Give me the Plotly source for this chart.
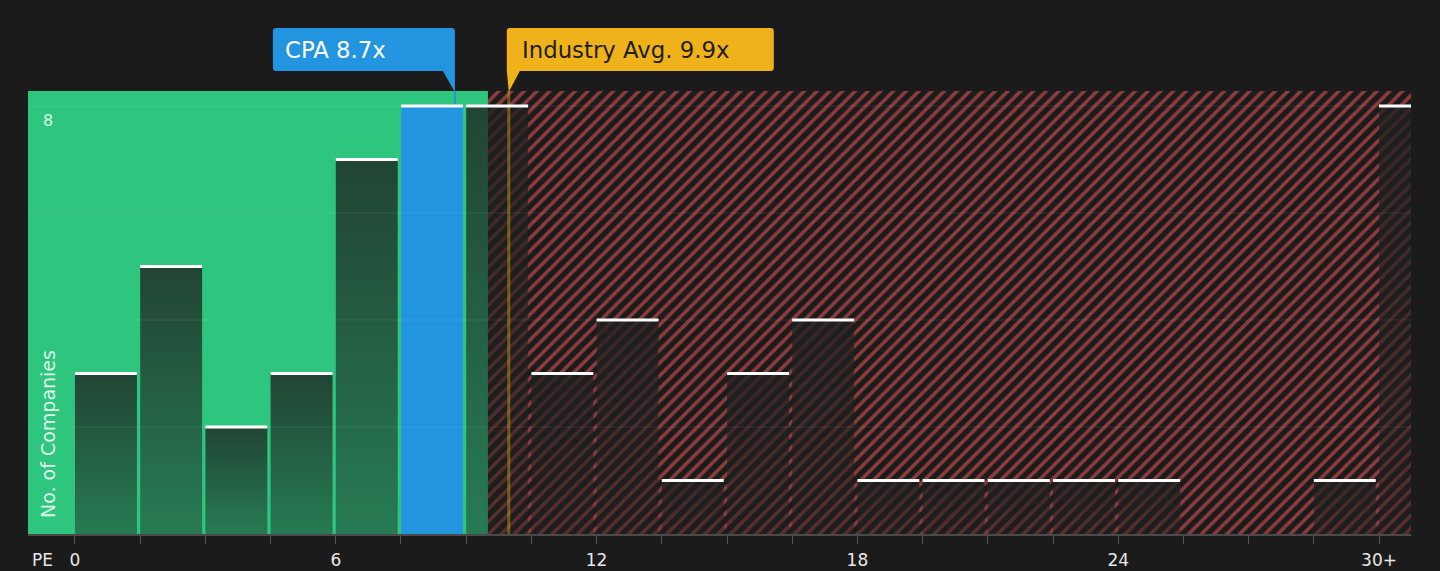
import plotly.graph_objects as go

# ---- data ----
bin_starts = [0, 1.5, 3, 4.5, 6, 7.5, 9, 10.5, 12, 13.5, 15, 16.5, 18, 19.5, 21, 22.5, 24, 25.5, 27, 28.5, 30]
counts = [3, 5, 2, 3, 7, 8, 8, 3, 4, 1, 3, 4, 1, 1, 1, 1, 1, 0, 0, 1, 8]
tick_labels = {0: "0", 6: "6", 12: "12", 18: "18", 24: "24", 30: "30+"}
company_label = "CPA 8.7x"
industry_label = "Industry Avg. 9.9x"
company_pe = 8.74
industry_pe = 9.98
fair_zone_end = 9.5
bin_width = 1.5

# ---- styling ----
BG = "#1b1b1b"
GREEN = "#2ec57e"
BLUE = "#2394e0"
YELLOW = "#f0b21b"
RED = "#ff5c5c"
FONT = "DejaVu Sans"
x_min, x_max = -1.081, 30.736
y_max = 8.28
bar_frac = 0.95

fig = go.Figure()

# green (undervalued) background
fig.add_trace(go.Scatter(
    x=[x_min, fair_zone_end, fair_zone_end, x_min, x_min],
    y=[0, 0, y_max, y_max, 0],
    fill="toself", fillcolor=GREEN, mode="lines", line=dict(width=0),
    hoverinfo="skip", showlegend=False))

# red hatched (overvalued) background
fig.add_trace(go.Bar(
    x=[(fair_zone_end + x_max) / 2], y=[y_max], width=[x_max - fair_zone_end], base=0,
    marker=dict(color=BG, line=dict(width=0),
                pattern=dict(shape="/", fgcolor=RED, bgcolor=BG, size=9, solidity=0.4)),
    hoverinfo="skip", showlegend=False))

# histogram bars
highlight = max(i for i, s in enumerate(bin_starts) if s <= company_pe)
for i, (s, v) in enumerate(zip(bin_starts, counts)):
    if v <= 0:
        continue
    w = bin_width * bar_frac
    xs = [s, s + w, s + w, s, s]
    ys = [0, 0, v, v, 0]
    if i == highlight:
        fig.add_trace(go.Scatter(x=xs, y=ys, fill="toself", fillcolor=BLUE, mode="lines",
                                 line=dict(width=0), hoverinfo="skip", showlegend=False))
    else:
        fig.add_trace(go.Scatter(
            x=xs, y=ys, fill="toself", mode="lines", line=dict(width=0),
            fillgradient=dict(type="vertical",
                              colorscale=[[0, "rgba(30,32,31,0.45)"], [1, "rgba(30,32,31,0.78)"]]),
            hoverinfo="skip", showlegend=False))

# industry average line
fig.add_trace(go.Scatter(x=[industry_pe, industry_pe], y=[0, y_max], mode="lines",
                         line=dict(color="rgba(200,150,30,0.5)", width=3),
                         hoverinfo="skip", showlegend=False))
# company pointer line
fig.add_trace(go.Scatter(x=[company_pe, company_pe], y=[counts[highlight], y_max], mode="lines",
                         line=dict(color=BLUE, width=2), hoverinfo="skip", showlegend=False))

# white caps
cx, cy = [], []
for s, v in zip(bin_starts, counts):
    if v <= 0:
        continue
    cx += [s, s + bin_width * bar_frac, None]
    cy += [v, v, None]
fig.add_trace(go.Scatter(x=cx, y=cy, mode="lines", line=dict(color="white", width=3),
                         hoverinfo="skip", showlegend=False))

shapes = []
for g in [2, 4, 6, 8]:
    shapes.append(dict(type="line", xref="paper", x0=0, x1=1, yref="y", y0=g, y1=g,
                       line=dict(color="rgba(255,255,255,0.09)", width=1), layer="above"))

# callouts (pixel-sized, anchored at data x)
shapes.append(dict(type="path", xref="x", xsizemode="pixel", xanchor=company_pe,
                   yref="paper", ysizemode="pixel", yanchor=1,
                   path="M -179,63 L -3,63 Q 0,63 0,60 L 0,-1 L -12,20 L -179,20 Q -182,20 -182,23 "
                        "L -182,60 Q -182,63 -179,63 Z",
                   fillcolor=BLUE, line=dict(width=0), layer="above"))
shapes.append(dict(type="path", xref="x", xsizemode="pixel", xanchor=industry_pe,
                   yref="paper", ysizemode="pixel", yanchor=1,
                   path="M -2,60 Q -2,63 1,63 L 262,63 Q 265,63 265,60 L 265,23 Q 265,20 262,20 "
                        "L 11,20 L 0,-1 L -2,20 Z",
                   fillcolor=YELLOW, line=dict(width=0), layer="above"))

annotations = [
    dict(x=company_pe, xref="x", xanchor="left", xshift=-172, y=1, yref="paper",
         yanchor="middle", yshift=41, text=company_label, showarrow=False,
         font=dict(family=FONT, size=22.8, color="white")),
    dict(x=industry_pe, xref="x", xanchor="left", xshift=11, y=1, yref="paper",
         yanchor="middle", yshift=41, text=industry_label, showarrow=False,
         font=dict(family=FONT, size=22.8, color="#1e1e1e")),
    dict(x=0, xref="paper", xshift=20, xanchor="center", y=0, yref="paper", yanchor="bottom",
         yshift=14, text="No. of Companies", textangle=-90, showarrow=False,
         font=dict(family=FONT, size=19, color="rgba(255,255,255,0.85)")),
    dict(x=0, xref="paper", xshift=20, xanchor="center", y=8, yref="y", yanchor="top",
         yshift=-3, text="8", showarrow=False,
         font=dict(family=FONT, size=16, color="rgba(255,255,255,0.85)")),
    dict(x=0, xref="paper", xshift=14, xanchor="center", y=0, yref="paper", yanchor="middle",
         yshift=-26, text="PE", showarrow=False,
         font=dict(family=FONT, size=17, color="#e8e8e8")),
]

fig.update_layout(
    width=1440, height=571,
    margin=dict(l=28, r=29, t=91, b=37, autoexpand=False),
    paper_bgcolor=BG, plot_bgcolor=BG,
    showlegend=False, barmode="overlay",
    shapes=shapes, annotations=annotations,
    font=dict(family=FONT, color="#e8e8e8"),
    xaxis=dict(range=[x_min, x_max], showgrid=False, zeroline=False, automargin=False,
               tickmode="array", tickvals=bin_starts,
               ticktext=[tick_labels.get(s, "") for s in bin_starts],
               ticks="outside", ticklen=8, tickcolor="#555555", tickwidth=1,
               ticklabelstandoff=2,
               showline=True, linecolor="#4a4a4a", linewidth=2, layer="above traces",
               tickfont=dict(family=FONT, size=17, color="#e8e8e8")),
    yaxis=dict(range=[0, y_max], showgrid=False, zeroline=False, showticklabels=False,
               automargin=False, fixedrange=True),
)

fig.write_html("out.html", config={"displayModeBar": False},
               post_script="document.body.style.margin='0';document.body.style.background='#1b1b1b';")
